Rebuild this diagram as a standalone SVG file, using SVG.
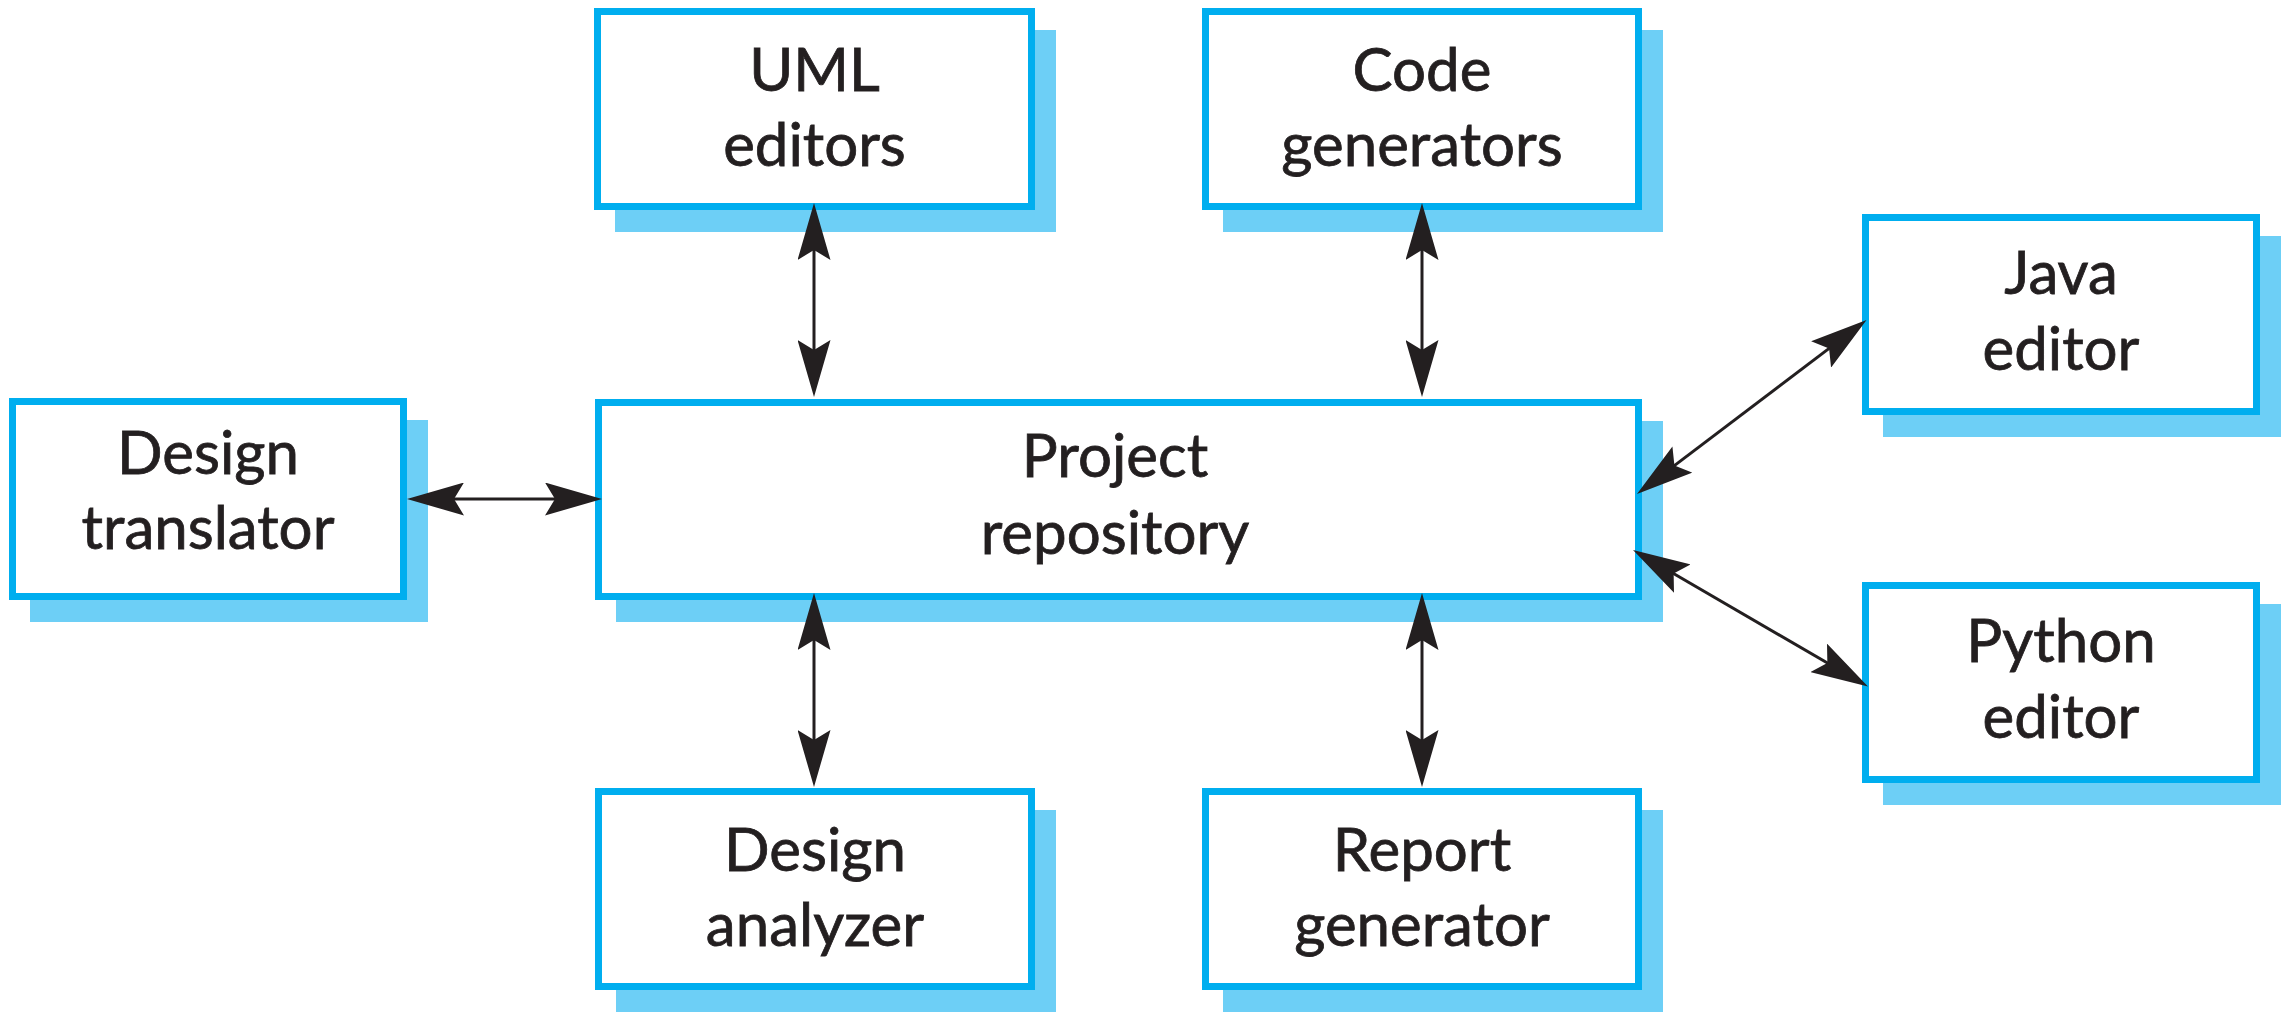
<svg xmlns="http://www.w3.org/2000/svg" width="2291" height="1020" viewBox="0 0 2291 1020">
<style>
.shadow{fill:#6DCFF6;stroke:none}
.box{fill:#FFFFFF;stroke:#00AEEF;stroke-width:7}
.lbl{font-family:Lato,"Open Sans","Liberation Sans",sans-serif;font-size:60px;fill:#231F20;stroke:#231F20;stroke-width:0.8;text-anchor:middle}
.conn{stroke:#231F20;stroke-width:3;fill:none;marker-start:url(#ah);marker-end:url(#ah)}
</style>
<defs>
<marker id="ah" viewBox="0 0 57 33" refX="37" refY="16.5" markerWidth="57" markerHeight="33" markerUnits="userSpaceOnUse" orient="auto-start-reverse">
<path d="M0,0 L57,16.5 L0,33 L10,16.5 Z" fill="#231F20"/>
</marker>
</defs>
<rect width="2291" height="1020" fill="#FFFFFF"/>
<g id="uml-editors">
<rect class="shadow" x="615" y="30" width="441" height="202"/>
<rect class="box" x="597.5" y="11.5" width="434" height="195"/>
<text class="lbl" x="814.5" y="91">UML</text>
<text class="lbl" x="814.5" y="166">editors</text>
</g>
<g id="code-generators">
<rect class="shadow" x="1223" y="30" width="440" height="202"/>
<rect class="box" x="1205.5" y="11.5" width="433" height="195"/>
<text class="lbl" x="1422" y="91">Code</text>
<text class="lbl" x="1422" y="166">generators</text>
</g>
<g id="java-editor">
<rect class="shadow" x="1883" y="236" width="398" height="201"/>
<rect class="box" x="1865.5" y="217.5" width="391" height="194"/>
<text class="lbl" x="2061" y="294">Java</text>
<text class="lbl" x="2061" y="369.5">editor</text>
</g>
<g id="design-translator">
<rect class="shadow" x="30" y="420" width="398" height="202"/>
<rect class="box" x="12.5" y="401.5" width="391" height="195"/>
<text class="lbl" x="208" y="473.5">Design</text>
<text class="lbl" x="208" y="548.5">translator</text>
</g>
<g id="project-repository">
<rect class="shadow" x="616" y="421" width="1047" height="201"/>
<rect class="box" x="598.5" y="402.5" width="1040" height="194"/>
<text class="lbl" x="1115" y="477">Project</text>
<text class="lbl" x="1115" y="554">repository</text>
</g>
<g id="python-editor">
<rect class="shadow" x="1883" y="604" width="398" height="201"/>
<rect class="box" x="1865.5" y="585.5" width="391" height="194"/>
<text class="lbl" x="2061" y="662">Python</text>
<text class="lbl" x="2061" y="738">editor</text>
</g>
<g id="design-analyzer">
<rect class="shadow" x="616" y="810" width="440" height="202"/>
<rect class="box" x="598.5" y="791.5" width="433" height="195"/>
<text class="lbl" x="815" y="871">Design</text>
<text class="lbl" x="815" y="946">analyzer</text>
</g>
<g id="report-generator">
<rect class="shadow" x="1223" y="810" width="440" height="202"/>
<rect class="box" x="1205.5" y="791.5" width="433" height="195"/>
<text class="lbl" x="1422" y="871">Report</text>
<text class="lbl" x="1422" y="946">generator</text>
</g>
<g id="connectors">
<line class="conn" x1="814" y1="223" x2="814" y2="377"/>
<line class="conn" x1="1422" y1="223" x2="1422" y2="377"/>
<line class="conn" x1="814" y1="613" x2="814" y2="767"/>
<line class="conn" x1="1422" y1="613" x2="1422" y2="767"/>
<line class="conn" x1="427" y1="499" x2="582" y2="499"/>
<line class="conn" x1="1652.9" y1="481.9" x2="1850.6" y2="332.1"/>
<line class="conn" x1="1650.3" y1="560" x2="1850.7" y2="676.5"/>
</g>
</svg>
